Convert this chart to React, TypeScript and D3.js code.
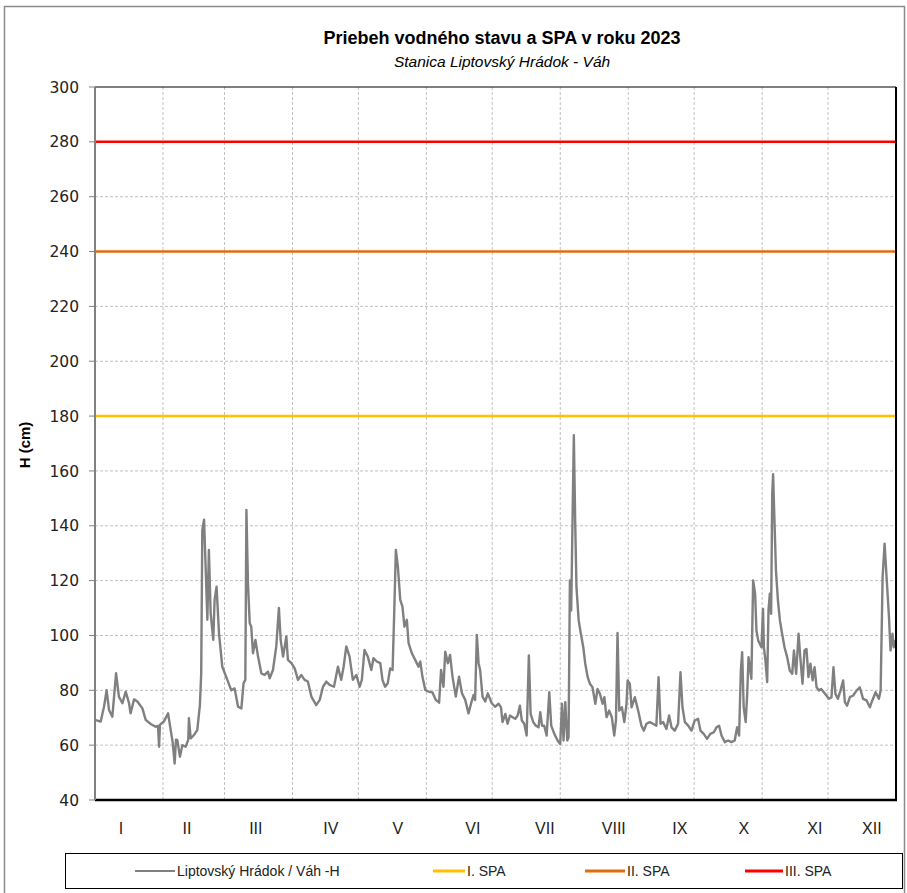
import React from "react";
import * as d3 from "d3";

const titleText = "Priebeh vodného stavu a SPA v roku 2023";
const subtitleText = "Stanica Liptovský Hrádok - Váh";
const yAxisTitle = "H (cm)";

const yTicks = [40, 60, 80, 100, 120, 140, 160, 180, 200, 220, 240, 260, 280, 300];
const monthLabels = ["I", "II", "III", "IV", "V", "VI", "VII", "VIII", "IX", "X", "XI", "XII"];
const monthLabelDays = [11.8, 41.9, 73.3, 107.5, 138, 172.2, 205, 236.4, 266.5, 295.7, 328, 354];
const monthBoundaryDays = [31, 59, 90, 120, 151, 181, 212, 243, 273, 304, 334];

const spaNames = ["I. SPA", "II. SPA", "III. SPA"];
const spaLevels = [180, 240, 280];
const spaColors = ["#FFC000", "#E46C0A", "#FF0000"];
const seriesName = "Liptovský Hrádok / Váh -H";

// [day of year, water level cm]
const levelReadings: [number, number][] = [
  [0, 69.2], [2.6, 68.6], [4.1, 74], [5.3, 80], [6.4, 72.8], [7.9, 70.4], [9.6, 86.2],
  [10.9, 77.7], [12.5, 75.3], [14.0, 79.5], [15.5, 75.3], [16.2, 71.6], [17.8, 76.7],
  [19.3, 75.9], [21.6, 73.4], [23.1, 69.2], [25.4, 67.7], [27.6, 66.7], [28.7, 67],
  [29.2, 59.4], [29.6, 67.5], [31.4, 68.6], [33.3, 71.6], [34.5, 65.5], [35.4, 61],
  [36.3, 53.3], [36.9, 62], [37.5, 61.9], [38.7, 55.8], [39.8, 60], [41.3, 59.4],
  [42.5, 62], [42.8, 69.8], [43.6, 62.5], [45.1, 63.7], [46.6, 65.5], [47.8, 74.6],
  [48.4, 86.2], [48.9, 138.5], [49.7, 142.2], [50.4, 125.2], [51.2, 105.7], [51.9, 131.2],
  [52.7, 108.1], [53.9, 98.4], [54.5, 113], [55.4, 117.8], [56.5, 100.8], [58.0, 88.6],
  [60.3, 83.8], [62.1, 80], [63.6, 80.7], [65.2, 74], [66.7, 73.4], [67.7, 82.6],
  [68.5, 83.8], [69.0, 145.8], [69.7, 119], [70.5, 104.5], [71.2, 103.2], [72.0, 93.5],
  [73.1, 98.4], [74.3, 92.3], [75.8, 86.2], [77.3, 85.6], [78.8, 86.8], [79.6, 84.4],
  [81.1, 87.4], [82.6, 96], [83.8, 110], [84.6, 98.4], [85.7, 92.3], [87.2, 99.6],
  [87.9, 91.1], [89.5, 89.9], [91.0, 88], [92.5, 83.8], [94.0, 85.6], [95.5, 83.8],
  [97.0, 83.2], [98.6, 77.7], [100.8, 74.6], [102.4, 76.5], [103.9, 81.3], [105.4, 83.2],
  [106.9, 82], [108.9, 81.3], [110.7, 88.6], [112.2, 83.8], [113.3, 88.6], [114.5, 96],
  [116.0, 92.3], [117.5, 83.8], [119.1, 85.6], [120.6, 81.3], [121.6, 83.8], [122.8, 94.7],
  [124.3, 92.3], [125.9, 87.4], [126.9, 91.7], [128.4, 90.5], [130.0, 89.9], [131.0, 83.8],
  [132.2, 81.3], [133.4, 82.6], [134.5, 88], [135.6, 87.4], [136.3, 106.9], [137.1, 131.2],
  [138.0, 125.2], [139.1, 113], [140.1, 110.5], [141.0, 103.2], [142.1, 105.7], [142.9, 97.2],
  [144.4, 93.5], [145.9, 91.1], [147.4, 88.6], [148.2, 90.5], [149.2, 85], [150.5, 80.1],
  [152.0, 79.5], [153.8, 79.2], [155.3, 76.5], [156.8, 75.5], [157.7, 87.4], [158.8, 81.3],
  [159.6, 94.1], [160.8, 89.9], [161.8, 92.9], [162.9, 85], [164.4, 77.7], [165.9, 85],
  [167.2, 78.9], [168.7, 76.5], [170.2, 71.6], [171.4, 75.3], [172.5, 78.3], [173.2, 76.5],
  [174.0, 100.2], [174.8, 89.9], [175.5, 87.4], [176.6, 77.7], [177.8, 75.9], [179.0, 78.9],
  [180.8, 75.3], [182.3, 74], [183.9, 75.1], [185.0, 73.8], [185.7, 68.4], [187.0, 71.4],
  [188.0, 67.8], [189.1, 70.8], [190.3, 70.2], [191.5, 69.6], [192.6, 70.8], [193.6, 74.4],
  [194.5, 69], [195.6, 67.8], [196.7, 63.5], [197.7, 92.7], [198.5, 71.4], [199.7, 68.4],
  [200.9, 67.1], [202.1, 66.5], [202.9, 72], [203.7, 67.1], [204.7, 67.1], [205.8, 63.5],
  [207.0, 79.3], [207.9, 67.1], [209.3, 64.1], [210.8, 61.7], [212.0, 60.4], [212.8, 75.1],
  [213.5, 61.7], [214.3, 75.7], [215.2, 61.7], [215.8, 62.9], [216.4, 120.1], [217.0, 109.1],
  [217.6, 142], [218.2, 173], [218.8, 142], [219.4, 117.6], [220.4, 105.5], [221.4, 100.6],
  [222.5, 95.7], [223.4, 89.7], [224.5, 84.8], [225.5, 82.4], [226.7, 81.1], [228.0, 75.1],
  [229.0, 80.5], [230.1, 78.7], [231.3, 75.1], [232.1, 77.5], [233.1, 70.2], [234.3, 72.6],
  [235.5, 70.2], [236.6, 63.5], [237.4, 69], [238.1, 100.9], [238.9, 72.6], [240.1, 73.8],
  [241.2, 68.4], [242.2, 75.1], [242.7, 83.6], [243.7, 82.4], [244.5, 73.8], [246.0, 77.5],
  [247.5, 72.6], [249.0, 67.1], [250.1, 65.3], [251.3, 67.8], [252.8, 68.4], [254.3, 67.8],
  [255.8, 67.1], [256.8, 84.8], [257.7, 67.8], [258.9, 68.4], [260.4, 65.9], [261.6, 70.8],
  [262.7, 66.5], [264.2, 65.3], [265.7, 67.8], [266.8, 86.6], [267.7, 73.8], [268.8, 68.4],
  [270.3, 67.1], [271.8, 65.3], [273.3, 69], [274.8, 69.6], [275.9, 65.3], [277.4, 64.1],
  [278.9, 62.3], [280.4, 64.1], [282.0, 64.7], [283.2, 66.5], [284.4, 67.1], [285.5, 63.5],
  [287.0, 61.1], [288.5, 61.7], [290.0, 61.1], [291.5, 61.7], [292.6, 66.5], [293.5, 63.5],
  [294.3, 87.2], [294.9, 93.9], [295.6, 73.8], [296.5, 68.4], [297.2, 78.7], [297.8, 92.1],
  [298.4, 88.4], [299.1, 84.2], [299.9, 120.1], [300.8, 115.2], [301.4, 101.8], [302.2, 98.2],
  [303.7, 95.7], [304.4, 109.7], [304.8, 95.7], [305.5, 90.9], [306.3, 83], [306.9, 109.1],
  [307.5, 115.2], [308.1, 107.9], [308.6, 151.7], [309.0, 158.8], [309.7, 139.6], [310.3, 123.7],
  [311.2, 112.8], [312.1, 105.5], [313.1, 100.6], [314.2, 95.7], [315.4, 92.1], [316.6, 87.2],
  [317.7, 86], [318.5, 94.5], [319.5, 86], [320.6, 100.6], [321.5, 90.9], [322.4, 82.4],
  [323.3, 94.5], [324.2, 95.1], [325.1, 84.8], [326.0, 89.7], [327.0, 83.6], [327.9, 88.4],
  [328.8, 81.1], [329.9, 79.9], [330.9, 80.5], [332.1, 79.3], [333.3, 78.1], [334.4, 76.9],
  [335.6, 77.5], [336.5, 88.4], [337.4, 78.7], [338.5, 76.9], [339.7, 79.9], [340.9, 83.6],
  [341.7, 75.7], [342.7, 74.4], [344.0, 77.5], [345.5, 78.1], [347.0, 79.9], [348.5, 81.1],
  [350.0, 76.9], [351.6, 76.3], [353.1, 73.8], [354.2, 76.3], [355.7, 79.3], [357.2, 76.9],
  [358.0, 79.9], [358.9, 121.3], [359.8, 133.5], [360.7, 121.3], [361.8, 106.7], [362.5, 94.5],
  [363.4, 100.6], [364.0, 95.7], [364.8, 98.2],
];

const W = 907;
const H = 893;
const plot = { left: 95, right: 896, top: 87, bottom: 800 };

export default function App() {
  const x = d3.scaleLinear().domain([0, 365]).range([plot.left, plot.right]);
  const y = d3.scaleLinear().domain([40, 300]).range([plot.bottom, plot.top]);
  const line = d3
    .line<[number, number]>()
    .x((d) => x(d[0]))
    .y((d) => y(d[1]));

  const sans = "'Liberation Sans', Arial, sans-serif";
  const legendY = 871;
  const legendItems = [
    { name: seriesName, color: "#808080", x1: 135, x2: 175, w: 2 },
    { name: spaNames[0], color: spaColors[0], x1: 433, x2: 465, w: 3 },
    { name: spaNames[1], color: spaColors[1], x1: 585, x2: 625, w: 3 },
    { name: spaNames[2], color: spaColors[2], x1: 745, x2: 783, w: 3 },
  ];

  return (
    <svg
      width={W}
      height={H}
      style={{ position: "absolute", left: 0, top: 0, background: "#fff" }}
    >
      <rect x={0} y={0} width={W} height={H} fill="#fff" />
      {/* chart area border */}
      <path d={`M4.5,${H + 2} V6.5 H904.5 V${H + 2}`} fill="none" stroke="#8c8c8c" strokeWidth={1.5} />

      {/* title */}
      <text x={502} y={44} textAnchor="middle" fontFamily={sans} fontWeight="bold" fontSize={18} fill="#000">
        {titleText}
      </text>
      <text x={502} y={67} textAnchor="middle" fontFamily={sans} fontStyle="italic" fontSize={15.5} fill="#000">
        {subtitleText}
      </text>

      {/* horizontal grid */}
      {yTicks
        .filter((t) => t > 40 && t < 300)
        .map((t) => (
          <line
            key={"hg" + t}
            x1={plot.left}
            x2={plot.right}
            y1={y(t)}
            y2={y(t)}
            stroke="#c0c0c0"
            strokeWidth={1}
            strokeDasharray="3,2"
          />
        ))}
      {/* vertical grid */}
      {monthBoundaryDays.map((d) => (
        <line
          key={"vg" + d}
          x1={x(d)}
          x2={x(d)}
          y1={plot.top}
          y2={plot.bottom}
          stroke="#c0c0c0"
          strokeWidth={1}
          strokeDasharray="3,2"
        />
      ))}

      {/* SPA lines */}
      {spaLevels.map((lv, i) => (
        <line
          key={"spa" + lv}
          x1={plot.left}
          x2={plot.right}
          y1={y(lv)}
          y2={y(lv)}
          stroke={spaColors[i]}
          strokeWidth={2.5}
        />
      ))}

      {/* data line */}
      <path d={line(levelReadings) || ""} fill="none" stroke="#808080" strokeWidth={2.4} strokeLinejoin="round" />

      {/* plot frame */}
      <line x1={plot.left} x2={plot.right} y1={plot.top} y2={plot.top} stroke="#000" strokeWidth={1} />
      <line x1={plot.right} x2={plot.right} y1={plot.top} y2={plot.bottom} stroke="#000" strokeWidth={2} />
      <line x1={plot.left} x2={plot.right + 1} y1={plot.bottom} y2={plot.bottom} stroke="#000" strokeWidth={2.5} />
      <line x1={plot.left} x2={plot.left} y1={plot.top} y2={plot.bottom} stroke="#808080" strokeWidth={2} />

      {/* y ticks & labels */}
      {yTicks.map((t) => (
        <g key={"yt" + t}>
          <line x1={plot.left - 6} x2={plot.left} y1={y(t)} y2={y(t)} stroke="#808080" strokeWidth={1} />
          <text
            x={79}
            y={y(t)}
            dy="0.36em"
            textAnchor="end"
            fontFamily="'DejaVu Sans', Verdana, sans-serif"
            fontSize={15.5}
            fill="#222"
          >
            {t}
          </text>
        </g>
      ))}
      <text
        transform={`translate(30,445) rotate(-90)`}
        textAnchor="middle"
        fontFamily={sans}
        fontWeight="bold"
        fontSize={15}
        fill="#000"
      >
        {yAxisTitle}
      </text>

      {/* month labels */}
      {monthLabels.map((m, i) => (
        <text
          key={"m" + m}
          x={x(monthLabelDays[i])}
          y={834}
          textAnchor="middle"
          fontFamily={sans}
          fontSize={16}
          fill="#222"
        >
          {m}
        </text>
      ))}

      {/* legend */}
      <rect x={65.5} y={853.5} width={837} height={35} fill="#fff" stroke="#000" strokeWidth={1} />
      {legendItems.map((it) => (
        <g key={it.name}>
          <line x1={it.x1} x2={it.x2} y1={legendY} y2={legendY} stroke={it.color} strokeWidth={it.w} />
          <text x={it.x2 + 2} y={legendY} dy="0.36em" fontFamily={sans} fontSize={14} fill="#222">
            {it.name}
          </text>
        </g>
      ))}
    </svg>
  );
}
